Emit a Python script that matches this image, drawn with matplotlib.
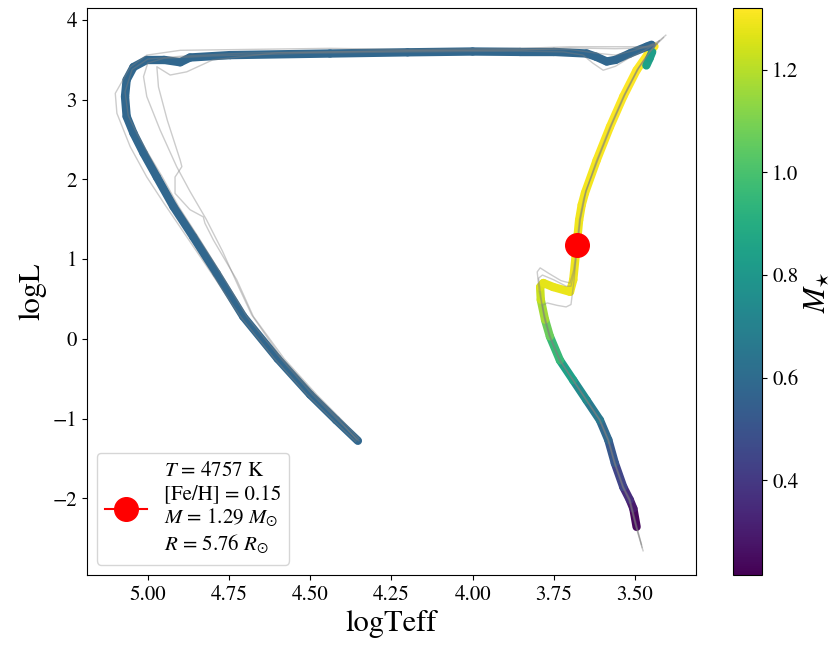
import numpy as np
import matplotlib.pyplot as plt
from matplotlib.collections import LineCollection
from matplotlib.colors import Normalize

plt.rcParams['font.family'] = 'STIXGeneral'
plt.rcParams['mathtext.fontset'] = 'stix'

# best isochrone: main sequence + red giant branch
ms_teff = [3.495, 3.505, 3.516, 3.536, 3.562, 3.582, 3.608, 3.649, 3.690, 3.731,
           3.762, 3.777, 3.790, 3.792, 3.782, 3.752, 3.700, 3.690, 3.682, 3.672,
           3.664, 3.654, 3.618, 3.577, 3.536, 3.495, 3.459, 3.440]
ms_logl = [-2.36, -2.13, -2.02, -1.86, -1.56, -1.27, -1.02, -0.77, -0.52, -0.27,
           0.03, 0.24, 0.49, 0.65, 0.70, 0.65, 0.59, 0.74, 1.07, 1.49,
           1.68, 1.83, 2.24, 2.66, 3.04, 3.37, 3.58, 3.67]
ms_mass = [0.215, 0.26, 0.32, 0.40, 0.48, 0.55, 0.62, 0.70, 0.79, 0.90,
           1.02, 1.12, 1.21, 1.25, 1.27, 1.28, 1.285, 1.29, 1.29, 1.295,
           1.30, 1.30, 1.305, 1.31, 1.315, 1.318, 1.32, 1.32]

# AGB piece
agb_teff = [3.465, 3.455, 3.447]
agb_logl = [3.43, 3.52, 3.60]
agb_mass = [0.86, 0.84, 0.82]

# post-AGB + white dwarf cooling
wd_teff = [3.449, 3.464, 3.516, 3.560, 3.587, 3.620, 3.649, 3.750, 3.854, 4.000,
           4.200, 4.439, 4.746, 4.870, 4.900, 4.950, 5.003, 5.044, 5.065, 5.070,
           5.065, 5.044, 5.013, 4.972, 4.921, 4.860, 4.788, 4.706, 4.600, 4.500,
           4.420, 4.353]
wd_logl = [3.69, 3.665, 3.58, 3.50, 3.48, 3.54, 3.58, 3.60, 3.60, 3.605,
           3.595, 3.58, 3.56, 3.53, 3.47, 3.50, 3.50, 3.41, 3.25, 3.04,
           2.79, 2.58, 2.33, 2.03, 1.66, 1.28, 0.82, 0.28, -0.25, -0.70,
           -1.02, -1.28]
wd_mass = [0.58] * len(wd_teff)

# other isochrones (grey)
g1_teff = [3.475, 3.497, 3.518, 3.538, 3.563, 3.583, 3.609, 3.650, 3.691, 3.732,
           3.763, 3.781, 3.795, 3.801, 3.792, 3.765, 3.728, 3.700, 3.689, 3.681,
           3.671, 3.658, 3.620, 3.578, 3.535, 3.493, 3.456, 3.428, 3.405]
g1_logl = [-2.66, -2.36, -2.03, -1.86, -1.56, -1.27, -1.02, -0.77, -0.52, -0.27,
           0.03, 0.30, 0.60, 0.84, 0.89, 0.82, 0.73, 0.70, 0.86, 1.10,
           1.50, 1.76, 2.22, 2.65, 3.05, 3.38, 3.60, 3.73, 3.81]
g2_teff = [3.478, 3.494, 3.515, 3.535, 3.561, 3.581, 3.607, 3.648, 3.689, 3.730,
           3.761, 3.775, 3.785, 3.770, 3.740, 3.712, 3.697, 3.688, 3.680, 3.669,
           3.652, 3.615, 3.574, 3.533, 3.492, 3.458, 3.432, 3.412]
g2_logl = [-2.62, -2.36, -2.02, -1.86, -1.56, -1.27, -1.02, -0.77, -0.52, -0.27,
           0.03, 0.24, 0.42, 0.45, 0.42, 0.40, 0.43, 0.72, 1.07, 1.50,
           1.85, 2.25, 2.67, 3.05, 3.38, 3.58, 3.70, 3.78]
g3_teff = [3.480, 3.496, 3.517, 3.537, 3.563, 3.583, 3.609, 3.650, 3.691, 3.732,
           3.763, 3.778, 3.789, 3.797, 3.785, 3.750, 3.712, 3.697, 3.687, 3.679,
           3.668, 3.650, 3.612, 3.571, 3.530, 3.488, 3.452, 3.425]
g3_logl = [-2.58, -2.36, -2.02, -1.86, -1.56, -1.27, -1.02, -0.77, -0.52, -0.27,
           0.03, 0.24, 0.52, 0.76, 0.80, 0.74, 0.66, 0.66, 0.85, 1.10,
           1.50, 1.86, 2.27, 2.69, 3.07, 3.40, 3.61, 3.74]

p1_teff = [3.425, 3.460, 3.550, 3.700, 3.850, 4.200, 4.440, 4.900, 5.003, 5.054,
           5.100, 5.095, 5.054, 5.003, 4.950, 4.880, 4.800, 4.715, 4.610, 4.510,
           4.430, 4.360]
p1_logl = [3.74, 3.665, 3.665, 3.665, 3.645, 3.630, 3.645, 3.620, 3.560, 3.410,
           3.080, 2.830, 2.410, 2.030, 1.700, 1.280, 0.800, 0.280, -0.250, -0.700,
           -1.020, -1.290]
p2_teff = [3.432, 3.470, 3.560, 3.700, 3.850, 4.200, 4.600, 4.800, 4.880, 4.931,
           4.972, 4.967, 4.940, 4.900, 4.895, 4.916, 4.916, 4.870, 4.829, 4.824,
           4.798, 4.726, 4.675, 4.580, 4.480, 4.400, 4.350]
p2_logl = [3.70, 3.650, 3.640, 3.650, 3.625, 3.615, 3.590, 3.500, 3.350, 3.310,
           3.414, 3.160, 2.745, 2.240, 2.160, 2.030, 1.825, 1.620, 1.530, 1.450,
           1.240, 0.740, 0.280, -0.250, -0.700, -1.030, -1.250]
p3_teff = [3.440, 3.470, 3.520, 3.560, 3.598, 3.630, 3.660, 3.720, 3.850, 4.200,
           4.500, 4.800, 4.950, 5.000, 5.013, 5.003, 4.962, 4.911, 4.870, 4.820,
           4.770, 4.720, 4.680, 4.590, 4.490, 4.410, 4.356]
p3_logl = [3.69, 3.62, 3.52, 3.42, 3.37, 3.46, 3.56, 3.600, 3.610, 3.600,
           3.585, 3.550, 3.520, 3.460, 3.290, 3.040, 2.620, 2.160, 1.850, 1.500,
           1.100, 0.650, 0.300, -0.230, -0.680, -1.020, -1.270]
p4_teff = [3.445, 3.500, 3.560, 3.610, 3.700, 3.900, 4.300, 4.700, 4.900, 5.000,
           5.048, 5.070, 5.060, 5.030, 4.995, 4.955, 4.905, 4.845, 4.775, 4.695,
           4.590, 4.495, 4.415, 4.350]
p4_logl = [3.70, 3.620, 3.560, 3.580, 3.630, 3.625, 3.610, 3.585, 3.545, 3.510,
           3.380, 3.100, 2.800, 2.550, 2.300, 2.030, 1.660, 1.280, 0.820, 0.280,
           -0.250, -0.690, -1.020, -1.280]

# observed star
star_teff = 3.6773
star_logl = 1.177
star_label = ("$T$ = 4757 K\n[Fe/H] = 0.15\n"
              "$M$ = 1.29 $M_{\\odot}$\n$R$ = 5.76 $R_{\\odot}$")


def make_segments(x, y):
    pts = np.column_stack([x, y]).reshape(-1, 1, 2)
    return np.concatenate([pts[:-1], pts[1:]], axis=1)


def seg_values(m):
    m = np.asarray(m)
    return 0.5 * (m[:-1] + m[1:])


fig = plt.figure(figsize=(8.36, 6.45), dpi=100)
ax = fig.add_axes([0.1037, 0.1085, 0.7285, 0.8786])
cax = fig.add_axes([0.8772, 0.1085, 0.0347, 0.8786])

all_mass = np.concatenate([ms_mass, agb_mass, wd_mass])
norm = Normalize(all_mass.min(), all_mass.max())

segs = np.concatenate([make_segments(ms_teff, ms_logl),
                       make_segments(agb_teff, agb_logl),
                       make_segments(wd_teff, wd_logl)])
vals = np.concatenate([seg_values(ms_mass), seg_values(agb_mass), seg_values(wd_mass)])
lc = LineCollection(segs, cmap='viridis', norm=norm, linewidths=6,
                    capstyle='round', joinstyle='round', zorder=2)
lc.set_array(vals)
ax.add_collection(lc)

# grey isochrones over the best one
for tx, ly in [(g1_teff, g1_logl), (g2_teff, g2_logl), (g3_teff, g3_logl),
               (p1_teff, p1_logl), (p2_teff, p2_logl), (p3_teff, p3_logl),
               (p4_teff, p4_logl)]:
    ax.plot(tx, ly, color='grey', alpha=0.4, lw=1.0, zorder=3)

ax.plot(star_teff, star_logl, 'o-', color='red', ms=17, label=star_label, zorder=5)

ax.set_xlim(5.188, 3.313)
ax.set_ylim(-2.964, 4.147)
ax.set_xticks([5.0, 4.75, 4.5, 4.25, 4.0, 3.75, 3.5])
ax.set_xticklabels(['5.00', '4.75', '4.50', '4.25', '4.00', '3.75', '3.50'])
ax.set_yticks([-2, -1, 0, 1, 2, 3, 4])
ax.tick_params(labelsize=15)
ax.set_xlabel('logTeff', fontsize=22)
ax.set_ylabel('logL', fontsize=22)
ax.legend(loc='lower left', fontsize=15)

cbar = fig.colorbar(lc, cax=cax)
cbar.set_label(r'$M_{\star}$', fontsize=22)
cbar.ax.tick_params(labelsize=15)

fig.savefig('out.png', dpi=100)
